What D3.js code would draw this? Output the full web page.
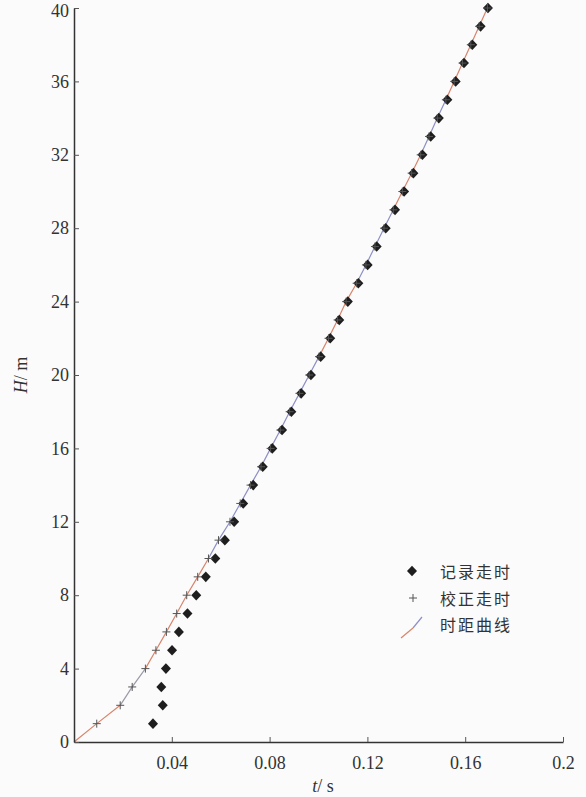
<!DOCTYPE html>
<html>
<head>
<meta charset="utf-8">
<script src="https://cdn.jsdelivr.net/npm/d3@7/dist/d3.min.js"></script>
<style>
  html, body { margin: 0; padding: 0; background: #fbfbfb; }
  svg { display: block; }
</style>
</head>
<body>
<div id="chart"></div>
<script>
// depth H (m)
const depths = d3.range(1, 41);

// recorded travel times (s)
const recordedTimes = [
  0.0323, 0.0363, 0.0357, 0.0376, 0.0401, 0.0429, 0.0464, 0.0500, 0.0539, 0.0578,
  0.0617, 0.0655, 0.0692, 0.0733, 0.0772, 0.0811, 0.0851, 0.0889, 0.0929, 0.0969,
  0.1009, 0.1048, 0.1085, 0.1120, 0.1163, 0.1201, 0.1238, 0.1275, 0.1313, 0.1350,
  0.1388, 0.1425, 0.1459, 0.1492, 0.1527, 0.1561, 0.1595, 0.1629, 0.1663, 0.1693
];

// corrected travel times (s)
const correctedTimes = [
  0.0093, 0.0189, 0.0238, 0.0292, 0.0335, 0.0378, 0.0420, 0.0461, 0.0506, 0.0550,
  0.0591, 0.0638, 0.0680, 0.0722, 0.0765, 0.0804, 0.0844, 0.0882, 0.0922, 0.0962,
  0.1002, 0.1041, 0.1078, 0.1113, 0.1156, 0.1194, 0.1231, 0.1268, 0.1306, 0.1343,
  0.1381, 0.1418, 0.1452, 0.1486, 0.1521, 0.1555, 0.1589, 0.1623, 0.1657, 0.1691
];

// time-distance curve pieces (depth ranges), drawn alternately
const curvePieces = [[0, 2], [2, 4], [4, 10], [10, 21], [21, 25], [25, 29], [29, 32], [32, 35], [35, 40]];

const xTicks = [0.04, 0.08, 0.12, 0.16, 0.2];
const yTicks = [0, 4, 8, 12, 16, 20, 24, 28, 32, 36, 40];
const legendLabels = ['记录走时', '校正走时', '时距曲线'];

const width = 586, height = 797;
const red = '#d9846c', blue = '#8c90c6';
const pieceColors = [red, '#9a9aa8', red, blue, red, blue, red, blue, red];

const svg = d3.select('#chart').append('svg')
  .attr('width', width)
  .attr('height', height)
  .style('background', '#fbfbfb');

const x = d3.scaleLinear().domain([0, 0.2]).range([74, 563]);
const y = d3.scaleLinear().domain([0, 40]).range([742, 8]);

const numFont = '"Liberation Serif", "Times New Roman", serif';
const cjkFont = '"Noto Sans CJK SC", sans-serif';

// curve through corrected points (starting at origin)
const curvePts = [{ h: 0, t: 0 }].concat(depths.map((h, i) => ({ h, t: correctedTimes[i] })));
const line = d3.line().x(d => x(d.t)).y(d => y(d.h));

curvePieces.forEach((p, i) => {
  const pts = curvePts.filter(d => d.h >= p[0] && d.h <= p[1]);
  svg.append('path')
    .datum(pts)
    .attr('fill', 'none')
    .attr('stroke', pieceColors[i])
    .attr('stroke-width', 1.2)
    .attr('d', line);
});

// recorded: diamonds (rotated squares)
const diamond = 'M0,-5.3L5,0L0,5.3L-5,0Z';
svg.append('g').selectAll('path')
  .data(depths)
  .enter().append('path')
  .attr('d', diamond)
  .attr('transform', (h, i) => `translate(${x(recordedTimes[i])},${y(h)})`)
  .attr('fill', '#1e1e1e');

// corrected: plus marks
const plus = svg.append('g');
depths.forEach((h, i) => {
  const cx = x(correctedTimes[i]), cy = y(h);
  plus.append('path')
    .attr('d', `M${cx - 4},${cy}H${cx + 4}M${cx},${cy - 4}V${cy + 4}`)
    .attr('stroke', '#555')
    .attr('stroke-width', 1);
});

// axes
const xAxis = svg.append('g')
  .attr('transform', `translate(0,${y(0)})`)
  .call(d3.axisBottom(x).tickValues(xTicks).tickSize(-5).tickSizeOuter(0).tickFormat(d => d === 0.2 ? '0.2' : d3.format('.2f')(d)));
xAxis.select('.domain').attr('stroke', '#333').attr('stroke-width', 1.5);
xAxis.selectAll('.tick line').attr('stroke', '#555');
xAxis.selectAll('.tick text')
  .attr('y', 14)
  .attr('fill', '#333')
  .style('font-family', numFont)
  .style('font-size', '18px');

const yAxis = svg.append('g')
  .attr('transform', `translate(${x(0)},0)`)
  .call(d3.axisLeft(y).tickValues(yTicks).tickSize(-5).tickSizeOuter(0));
yAxis.select('.domain').attr('stroke', '#333').attr('stroke-width', 1.5);
yAxis.selectAll('.tick line').attr('stroke', '#555');
yAxis.selectAll('.tick text')
  .attr('x', -5)
  .attr('dy', d => d === 40 ? '0.45em' : '0.32em')
  .attr('fill', '#333')
  .style('font-family', numFont)
  .style('font-size', '18px');

// axis titles
const xt = svg.append('text')
  .attr('x', 323).attr('y', 792)
  .attr('text-anchor', 'middle')
  .attr('fill', '#333')
  .style('font-family', numFont)
  .style('font-size', '18px');
xt.append('tspan').style('font-style', 'italic').text('t');
xt.append('tspan').text('/ s');

const yt = svg.append('text')
  .attr('transform', 'translate(27,375) rotate(-90)')
  .attr('text-anchor', 'middle')
  .attr('fill', '#333')
  .style('font-family', numFont)
  .style('font-size', '18px');
yt.append('tspan').style('font-style', 'italic').text('H');
yt.append('tspan').text('/ m');

// legend
const lg = svg.append('g');
lg.append('path').attr('d', diamond).attr('transform', 'translate(412,571)').attr('fill', '#1e1e1e');
lg.append('path').attr('d', 'M409,598H417M413,594V602').attr('stroke', '#555').attr('stroke-width', 1);
lg.append('path').attr('d', 'M401,638L413,628').attr('stroke', red).attr('stroke-width', 1.2).attr('fill', 'none');
lg.append('path').attr('d', 'M413,628L422,617').attr('stroke', blue).attr('stroke-width', 1.2).attr('fill', 'none');
lg.selectAll('text.lab')
  .data(legendLabels)
  .enter().append('text')
  .attr('class', 'lab')
  .attr('x', 440)
  .attr('y', (d, i) => 578 + i * 26.5)
  .attr('fill', '#333')
  .style('font-family', cjkFont)
  .style('font-size', '16px')
  .style('letter-spacing', '2px')
  .text(d => d);
</script>
</body>
</html>
